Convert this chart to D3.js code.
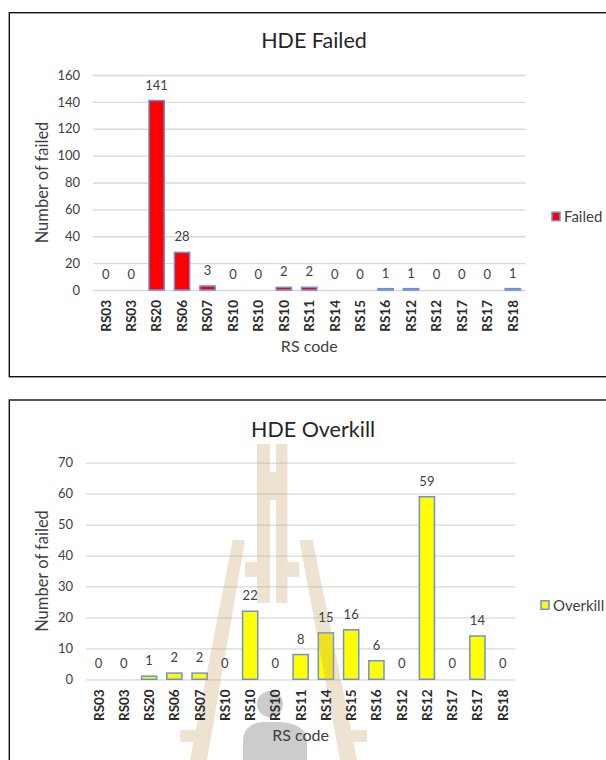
<!DOCTYPE html>
<html>
<head>
<meta charset="utf-8">
<script src="https://cdn.jsdelivr.net/npm/d3@7/dist/d3.min.js"></script>
<style>
  html, body { margin: 0; padding: 0; background: #fff; }
  svg { display: block; }
  text { font-family: Lato, "Open Sans", sans-serif; }
</style>
</head>
<body>
<svg id="chart" width="606" height="760"></svg>
<script>
// RS codes along the x axis (same order in both panels)
const categories = ["RS03","RS03","RS20","RS06","RS07","RS10","RS10","RS10","RS11",
                    "RS14","RS15","RS16","RS12","RS12","RS17","RS17","RS18"];

// Counts per RS code
const failedCounts   = [0, 0, 141, 28, 3, 0, 0, 2, 2, 0, 0, 1, 1, 0, 0, 0, 1];
const overkillCounts = [0, 0, 1, 2, 2, 0, 22, 0, 8, 15, 16, 6, 0, 59, 0, 14, 0];

// Y-axis tick values
const failedTicks   = [0, 20, 40, 60, 80, 100, 120, 140, 160];
const overkillTicks = [0, 10, 20, 30, 40, 50, 60, 70];

const svg = d3.select("#chart");
const TEXT = "#404040";
const OUTLINE = "#6f8fdc";

function drawPanel(p) {
  const g = svg.append("g");

  // chart frame (runs off the right edge)
  g.append("rect")
    .attr("x", p.frame.x).attr("y", p.frame.y)
    .attr("width", p.frame.w).attr("height", p.frame.h)
    .attr("fill", "#fff").attr("stroke", "#111").attr("stroke-width", 1.4);

  const x = d3.scaleBand()
    .domain(d3.range(categories.length))
    .range([p.x0, p.x1])
    .paddingInner(0.4).paddingOuter(0.2);

  const y = d3.scaleLinear()
    .domain([0, d3.max(p.ticks)])
    .range([p.yBase, p.yTop]);

  // y axis: gridlines + tick labels
  const yAxis = g.append("g")
    .attr("transform", `translate(${p.x0},0)`)
    .call(d3.axisLeft(y).tickValues(p.ticks).tickSize(-(p.x1 - p.x0)).tickPadding(13));
  yAxis.select(".domain").remove();
  yAxis.selectAll(".tick line").attr("stroke", "#d9d9d9").attr("stroke-width", 1.3);
  yAxis.selectAll(".tick text")
    .attr("fill", TEXT).attr("font-size", 13);

  // bars
  g.append("g").selectAll("rect")
    .data(p.values.map((v, i) => ({ v, i })).filter(d => d.v > 0))
    .join("rect")
    .attr("x", d => x(d.i))
    .attr("width", x.bandwidth())
    .attr("y", d => y(d.v))
    .attr("height", d => y(0) - y(d.v))
    .attr("fill", p.color)
    .attr("stroke", OUTLINE)
    .attr("stroke-width", 1.5);

  if (p.watermark) p.watermark(g);

  // x axis tick labels, rotated
  const xAxis = g.append("g")
    .attr("transform", `translate(0,${p.yBase})`)
    .call(d3.axisBottom(x).tickSize(0).tickFormat(i => categories[i]));
  xAxis.select(".domain").remove();
  xAxis.selectAll(".tick text")
    .attr("transform", "rotate(-90)")
    .attr("text-anchor", "end")
    .attr("x", -10).attr("y", 0).attr("dy", "0.36em")
    .attr("fill", "#2b2b2b").attr("font-size", 13.5).attr("font-weight", 700);

  // value labels
  g.append("g").selectAll("text")
    .data(p.values)
    .join("text")
    .attr("x", (d, i) => x(i) + x.bandwidth() / 2)
    .attr("y", d => y(d) - 11)
    .attr("text-anchor", "middle")
    .attr("fill", TEXT).attr("font-size", 13)
    .text(d => d);

  // title
  g.append("text")
    .attr("x", p.titleX).attr("y", p.titleY)
    .attr("text-anchor", "middle")
    .attr("fill", "#262626").attr("font-size", 21.5)
    .text(p.title);

  // axis titles
  g.append("text")
    .attr("x", (p.x0 + p.x1) / 2).attr("y", p.xTitleY)
    .attr("text-anchor", "middle")
    .attr("fill", TEXT).attr("font-size", 16)
    .text("RS code");

  g.append("text")
    .attr("transform", `translate(48,${(p.yBase + p.yTop) / 2}) rotate(-90)`)
    .attr("text-anchor", "middle")
    .attr("fill", TEXT).attr("font-size", 16.5)
    .text("Number of failed");

  // legend
  const lg = g.append("g").attr("transform", `translate(${p.legend.x},${p.legend.y})`);
  lg.append("rect")
    .attr("x", 0).attr("y", -4.5).attr("width", 8).attr("height", 8.5)
    .attr("fill", p.color).attr("stroke", OUTLINE).attr("stroke-width", 1.5);
  lg.append("text")
    .attr("x", 12).attr("y", 0).attr("dy", "0.36em")
    .attr("fill", TEXT).attr("font-size", 15)
    .text(p.legendLabel);
}

// faint logo watermark behind the lower panel
function watermark(g) {
  const w = g.append("g").attr("pointer-events", "none");
  const tan = w.append("g").attr("fill", "#c9a36a").attr("opacity", 0.3);
  tan.append("rect").attr("x", 257).attr("y", 444).attr("width", 13).attr("height", 159);
  tan.append("rect").attr("x", 276).attr("y", 444).attr("width", 11.5).attr("height", 159);
  tan.append("rect").attr("x", 270).attr("y", 472).attr("width", 6).attr("height", 28);
  tan.append("polygon").attr("points", "232.7,540 245,540 207,760 190,760");
  tan.append("polygon").attr("points", "299.3,540 312.7,540 357,760 340,760");
  tan.append("rect").attr("x", 245).attr("y", 562).attr("width", 12).attr("height", 15);
  tan.append("rect").attr("x", 287).attr("y", 562).attr("width", 12.3).attr("height", 15);
  tan.append("rect").attr("x", 180).attr("y", 730).attr("width", 22).attr("height", 12);
  tan.append("rect").attr("x", 345).attr("y", 730).attr("width", 22).attr("height", 12);
  const grey = w.append("g").attr("fill", "#9a9a9a").attr("opacity", 0.5);
  grey.append("circle").attr("cx", 270).attr("cy", 704).attr("r", 13);
  grey.append("path").attr("d", "M243,760 L243,742 Q243,724 262,722 L280,722 Q307,724 307,742 L307,760 Z");
}

drawPanel({
  frame: { x: 9.3, y: 12.7, w: 620, h: 364 },
  x0: 93, x1: 525.5, yBase: 290, yTop: 75,
  ticks: failedTicks, values: failedCounts, color: "#ff0000",
  title: "HDE Failed", titleX: 314, titleY: 47.5,
  xTitleY: 352,
  legend: { x: 552, y: 216.7 }, legendLabel: "Failed"
});

drawPanel({
  frame: { x: 9.3, y: 400, w: 620, h: 400 },
  x0: 86, x1: 515.3, yBase: 679.3, yTop: 462.7,
  ticks: overkillTicks, values: overkillCounts, color: "#ffff00",
  title: "HDE Overkill", titleX: 313, titleY: 436.5,
  xTitleY: 741,
  legend: { x: 541, y: 605.3 }, legendLabel: "Overkill",
  watermark
});
</script>
</body>
</html>
